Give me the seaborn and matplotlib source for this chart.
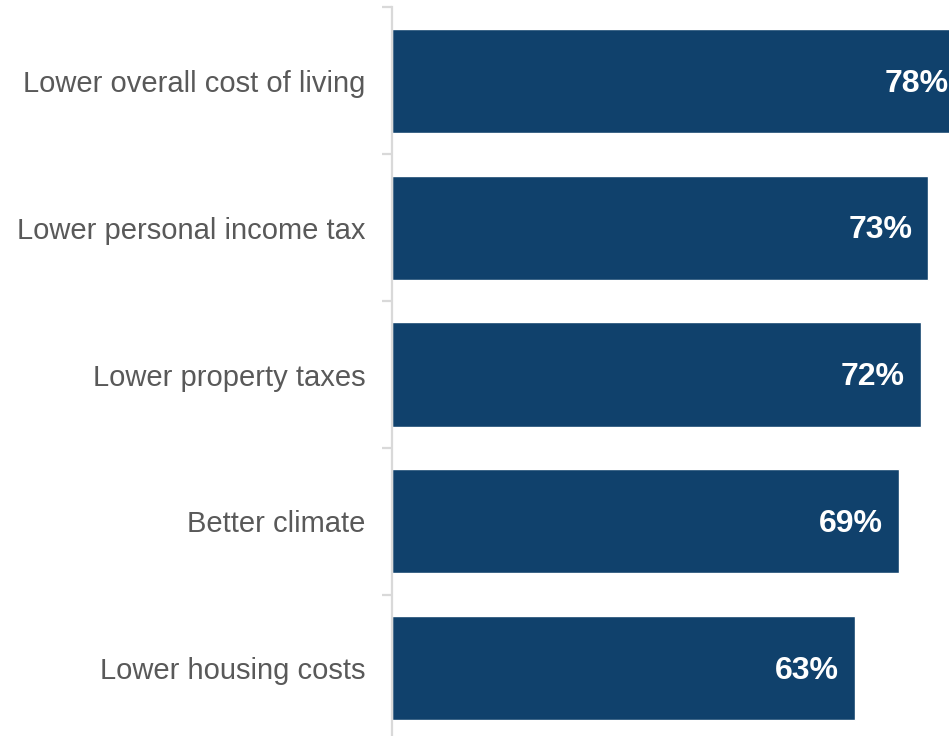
import matplotlib
matplotlib.use("Agg")
import matplotlib.pyplot as plt
import seaborn as sns
import pandas as pd
import numpy as np

categories = [
    "Lower overall cost of living",
    "Lower personal income tax",
    "Lower property taxes",
    "Better climate",
    "Lower housing costs",
]
values = [78, 73, 72, 69, 63]

sns.set_theme(style="white")
plt.rcParams["font.family"] = ["Liberation Sans", "DejaVu Sans"]

df = pd.DataFrame({"reason": categories, "share": values})

fig = plt.figure(figsize=(9.49, 7.36), dpi=100)
top = 1 - 7.5 / 736
bottom = 1 - 741.5 / 736
ax = fig.add_axes([392 / 949, bottom, 1 - 392 / 949, top - bottom])

bar_color = "#10416c"
sns.barplot(data=df, x="share", y="reason", orient="h", color=bar_color,
            width=0.71, saturation=1, ax=ax)

ax.set_xlim(0, 75.8)
ax.set_ylim(4.5, -0.5)
ax.set_xlabel("")
ax.set_ylabel("")
ax.set_xticks([])

for s in ["top", "right", "bottom"]:
    ax.spines[s].set_visible(False)
ax.spines["left"].set_color("#d9d9d9")
ax.spines["left"].set_linewidth(1.6)

# Category labels (no marks) and separator ticks between categories
ax.set_yticks(range(len(categories)))
ax.set_yticklabels(categories, fontsize=21, color="#595959")
ax.tick_params(axis="y", which="major", left=True, length=0, pad=19)
ax.set_yticks(np.arange(-0.5, len(categories), 1.0), minor=True)
ax.tick_params(axis="y", which="minor", left=True, length=7, width=1.6,
               color="#d9d9d9")

for i, v in enumerate(values):
    ax.annotate(f"{v}%", xy=(v, i), xytext=(-11.5, -2), textcoords="offset points",
                ha="right", va="center", color="white", fontsize=23,
                fontweight="bold", annotation_clip=False)

fig.savefig("out.png", dpi=100)
